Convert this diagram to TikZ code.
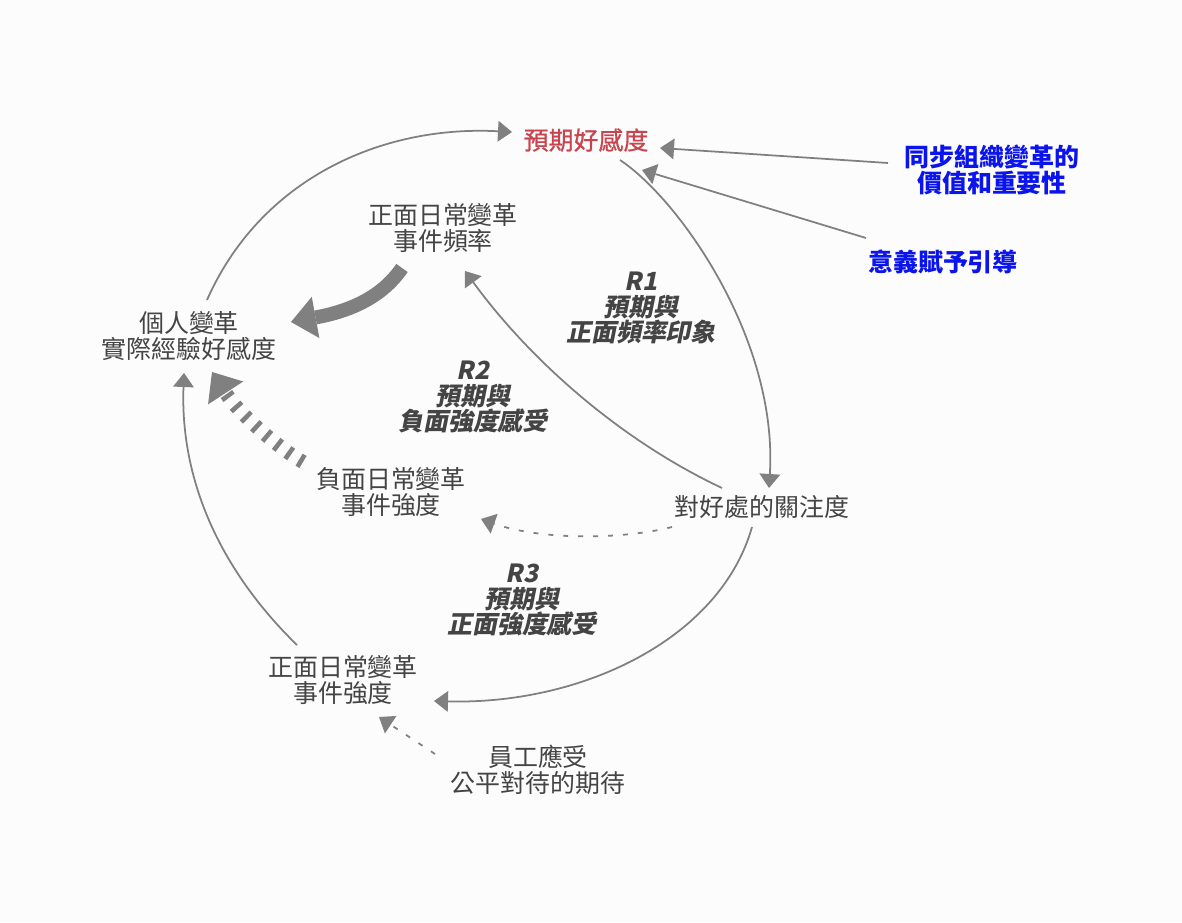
\documentclass[tikz,border=0pt]{standalone}
\usepackage{fontspec}
\setmainfont{Noto Sans CJK TC}
\newfontfamily\loopfont[FakeSlant=0.2]{Noto Sans CJK TC}
\newfontfamily\targetfont[FakeBold=0.8]{Noto Sans CJK TC}
\usepackage{xcolor}
\usetikzlibrary{arrows.meta}
\definecolor{mygray}{RGB}{128,128,128}
\definecolor{mytext}{RGB}{68,68,68}
\definecolor{myred}{RGB}{200,68,78}
\definecolor{myblue}{RGB}{10,20,235}
\definecolor{mybg}{RGB}{252,252,252}

\begin{document}
\begin{tikzpicture}[x=0.02cm,y=-0.02cm,
  lbl/.style={text=mytext,align=center,font=\fontsize{14.2}{14.8}\selectfont},
  loopname/.style={text=mytext,align=center,font=\loopfont\bfseries\fontsize{14.2}{14.4}\selectfont},
  lever/.style={text=myblue,align=center,font=\bfseries\fontsize{14.2}{14.8}\selectfont},
  link/.style={draw=mygray,line width=1pt,-{Triangle[length=0.28cm,width=0.42cm,line width=0pt]}},
  weak/.style={link,dash pattern=on 2.8pt off 5.7pt},
  strong/.style={draw=mygray,line width=0.28cm,-{Triangle[length=0.5cm,width=0.84cm,line width=0pt]}},
  strongdash/.style={strong,dash pattern=on 2.6pt off 5.4pt}]

\fill[mybg] (0,0) rectangle (1182,922);
\useasboundingbox (0,0) rectangle (1182,922);

%variables
\node[lbl,text=myred,font=\targetfont\fontsize{14.2}{14.8}\selectfont] (exp) at (586,140) {預期好感度};
\node[lever] (sync) at (992,170) {同步組織變革的\\價值和重要性};
\node[lever] (mean) at (943,262) {意義賦予引導};
\node[lbl] (freq) at (443,228) {正面日常變革\\事件頻率};
\node[lbl] (pers) at (189,336) {個人變革\\實際經驗好感度};
\node[lbl] (negi) at (391,492) {負面日常變革\\事件強度};
\node[lbl] (att) at (762,507) {對好處的關注度};
\node[lbl] (posi) at (343,680) {正面日常變革\\事件強度};
\node[lbl] (fair) at (538,770) {員工應受\\公平對待的期待};

%loop names
\node[loopname] (r1) at (641,308) {R1\\預期與\\正面頻率印象};
\node[loopname] (r2) at (473,397) {R2\\預期與\\負面強度感受};
\node[loopname] (r3) at (522,600) {R3\\預期與\\正面強度感受};

%outer loop
\draw[link] ([shift={(18,-36)}]pers.center) .. controls (260,180) and (380,125) .. ([shift={(-74,-8)}]exp.center);
\draw[link] ([shift={(34,20)}]exp.center) .. controls (680,200) and (778,340) .. ([shift={(7,-19)}]att.center);
\draw[link] ([shift={(-10,20)}]att.center) .. controls (720,640) and (580,705) .. ([shift={(91,21)}]posi.center);
\draw[link] ([shift={(-46,-35)}]posi.center) .. controls (220,570) and (180,480) .. ([shift={(-5,37)}]pers.center);

%inner links
\draw[link] ([shift={(-40,-19)}]att.center) .. controls (620,440) and (530,360) .. ([shift={(22,43)}]freq.center);
\draw[weak] ([shift={(-90,20)}]att.center) .. controls (620,540) and (540,540) .. ([shift={(90,27)}]negi.center);
\draw[strong] ([shift={(-41,40)}]freq.center) .. controls (380,300) and (345,312) .. ([shift={(102,-14)}]pers.center);
\draw[strongdash] ([shift={(-88,-30)}]negi.center) .. controls (280,449) and (240,415) .. ([shift={(23,36)}]pers.center);
\draw[weak] ([shift={(-103,-16)}]fair.center) -- ([shift={(36,37)}]posi.center);

%levers
\draw[link] ([shift={(-104,-7)}]sync.center) -- ([shift={(74,8)}]exp.center);
\draw[link] ([shift={(-77,-24)}]mean.center) -- ([shift={(56,30)}]exp.center);

\end{tikzpicture}
\end{document}
